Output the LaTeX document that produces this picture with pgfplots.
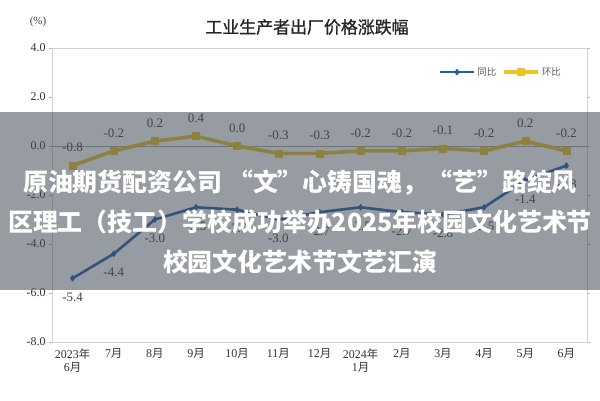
\documentclass[border=0pt]{standalone}
\usepackage{pgfplots}
\pgfplotsset{compat=1.18}
\usepackage{fontspec}
\setmainfont{Liberation Serif}
\newfontfamily\cjk{Noto Sans CJK SC}
\newfontfamily\cjkt[FakeBold=1.2]{Noto Sans CJK SC}
\definecolor{tbblue}{RGB}{36,96,172}
\definecolor{hbyellow}{RGB}{236,196,40}
\definecolor{banner}{RGB}{64,74,85}
\newcommand\Y[1]{#1{\cjk\fontsize{11.5}{12}\selectfont 年}}
\newcommand\M[1]{#1{\cjk\fontsize{11.5}{12}\selectfont 月}}
\begin{document}
\begin{tikzpicture}[x=1bp,y=1bp]
\useasboundingbox (0,0) rectangle (600,400);
\begin{axis}[
  at={(52bp,58bp)}, anchor=south west,
  scale only axis, width=535bp, height=294bp,
  xmin=-0.5, xmax=12.5, ymin=-8, ymax=4,
  ytick={-8,-6,-4,-2,0,2,4},
  /pgf/number format/assume math mode=true,
  yticklabel={\pgfmathprintnumber[fixed,fixed zerofill,precision=1]{\tick}},
  yticklabel style={font=\fontsize{12}{13}\selectfont, text=black!80},
  xtick={0,...,12},
  xticklabels={{\Y{2023}\\\M{6}},\M{7},\M{8},\M{9},\M{10},\M{11},\M{12},{\Y{2024}\\\M{1}},\M{2},\M{3},\M{4},\M{5},\M{6}},
  xticklabel style={align=center, font=\fontsize{12}{13}\selectfont, text=black!80},
  x tick style={draw=none},
  y tick style={gray!60},
  tick align=outside, major tick length=3bp,
  axis line style={gray!35},
  clip=false,
  legend image code/.code={
    \draw[#1] (0bp,0bp) -- (34bp,0bp);
    \draw[#1, mark repeat=2, mark phase=2] plot coordinates {(0bp,0bp) (17bp,0bp) (34bp,0bp)};
  },
  legend style={at={(0.955,0.918)}, anchor=east, draw=none, fill=none,
    legend columns=2, font=\cjk\fontsize{9.5}{11}\selectfont, text=black!65,
    inner sep=0pt,
    /tikz/every even column/.append style={column sep=4bp},
    /tikz/every odd column/.append style={column sep=0bp}},
]
\draw[gray!70, line width=0.8bp] (axis cs:-0.5,0) -- (axis cs:12.5,0);
\addplot[tbblue, line width=2.6bp, mark=diamond*, mark size=3bp,
  mark options={fill=tbblue, line width=0.5bp},
  nodes near coords, point meta=explicit symbolic,
  every node near coord/.append style={font=\fontsize{13}{14}\selectfont, text=black!75, anchor=north, yshift=-11bp}]
coordinates {
(0,-5.4) [-5.4]
(1,-4.4) [-4.4]
(2,-3.0) [-3.0]
(3,-2.5) [-2.5]
(4,-2.6) [-2.6]
(5,-3.0) [-3.0]
(6,-2.7) [-2.7]
(7,-2.5) [-2.5]
(8,-2.7) [-2.7]
(9,-2.8) [-2.8]
(10,-2.5) [-2.5]
(11,-1.4) [-1.4]
(12,-0.8) [-0.8]
};
\addlegendentry{同比}
\addplot[hbyellow, line width=3.6bp, mark=square*, mark size=3.5bp,
  mark options={fill=hbyellow, line width=0.5bp},
  nodes near coords, point meta=explicit symbolic,
  every node near coord/.append style={font=\fontsize{13}{14}\selectfont, text=black!75, anchor=south, yshift=10bp}]
coordinates {
(0,-0.8) [-0.8]
(1,-0.2) [-0.2]
(2,0.2) [0.2]
(3,0.4) [0.4]
(4,0.0) [0.0]
(5,-0.3) [-0.3]
(6,-0.3) [-0.3]
(7,-0.2) [-0.2]
(8,-0.2) [-0.2]
(9,-0.1) [-0.1]
(10,-0.2) [-0.2]
(11,0.2) [0.2]
(12,-0.2) [-0.2]
};
\addlegendentry{环比}
\end{axis}
\node[font=\fontsize{11}{12}\selectfont, text=black!75] at (38,378) {(\%)};
\node[font=\cjkt\fontsize{17}{18}\selectfont, text=black!85] at (307,373) {工业生产者出厂价格涨跌幅};
\fill[banner, opacity=0.55] (0,110) rectangle (600,288);
\begin{scope}
\clip (0,0) rectangle (600,400);
\node[white, font=\cjk\bfseries\fontsize{25}{26}\selectfont] at (300,217) {原油期货配资公司 “文”心铸国魂，“艺”路绽风};
\node[white, font=\cjk\bfseries\fontsize{25}{26}\selectfont] at (300,178) {区理工（技工）学校成功举办2025年校园文化艺术节};
\node[white, font=\cjk\bfseries\fontsize{25}{26}\selectfont] at (300,138) {校园文化艺术节文艺汇演};
\end{scope}
\end{tikzpicture}
\end{document}
